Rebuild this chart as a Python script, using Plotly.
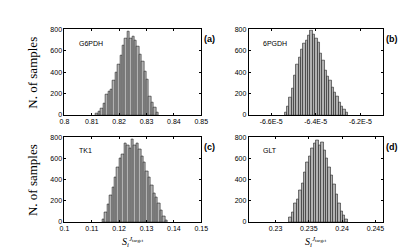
import numpy as np
import plotly.graph_objects as go

# ---- data ----
g6pdh_start = 0.8115
g6pdh_width = 0.00088
g6pdh_counts = [10, 30, 60, 110, 195, 220, 240, 320, 400, 470, 560, 650, 720,
                778, 720, 730, 700, 640, 570, 500, 410, 330, 170, 120, 70, 20]

pgdh_start = -6.540e-5
pgdh_width = 0.0105e-5
pgdh_counts = [20, 80, 160, 250, 370, 470, 540, 610, 666, 700, 745, 794, 755,
               720, 680, 576, 510, 420, 360, 322, 260, 210, 170, 120, 80, 50, 20]

tk1_start = 0.1139
tk1_width = 0.00088
tk1_counts = [22, 90, 170, 250, 330, 420, 520, 600, 640, 740, 720, 700, 780,
              720, 740, 690, 620, 560, 480, 420, 350, 270, 230, 180, 110, 50, 15]

glt_start = 0.23206
glt_width = 0.000366
glt_counts = [39, 93, 173, 218, 297, 367, 472, 561, 621, 698, 740, 770,
              725, 755, 680, 606, 516, 442, 352, 263, 173, 98, 63, 24]

panel_names = ["G6PDH", "6PGDH", "TK1", "GLT"]
panel_letters = ["(a)", "(b)", "(c)", "(d)"]
y_ticks = [0, 200, 400, 600, 800]

x_ranges = [[0.8, 0.85], [-6.7e-5, -6.1e-5], [0.1, 0.15], [0.226, 0.2461]]
x_tickvals = [[0.8, 0.81, 0.82, 0.83, 0.84, 0.85],
              [-6.6e-5, -6.4e-5, -6.2e-5],
              [0.1, 0.11, 0.12, 0.13, 0.14, 0.15],
              [0.23, 0.235, 0.24, 0.245]]
x_ticktext = [["0.8", "0.81", "0.82", "0.83", "0.84", "0.85"],
              ["-6.6E-5", "-6.4E-5", "-6.2E-5"],
              ["0.1", "0.11", "0.12", "0.13", "0.14", "0.15"],
              ["0.23", "0.235", "0.24", "0.245"]]

series = [(g6pdh_start, g6pdh_width, g6pdh_counts),
          (pgdh_start, pgdh_width, pgdh_counts),
          (tk1_start, tk1_width, tk1_counts),
          (glt_start, glt_width, glt_counts)]

# ---- layout geometry ----
W, H = 406, 248
xdoms = [[53 / W, 194 / W], [243 / W, 381 / W]]
ydoms = [[1 - 106 / H, 1 - 18 / H], [1 - 216 / H, 1 - 129 / H]]

fig = go.Figure()
annotations = []
tick_font = dict(family="Arial, Liberation Sans, sans-serif", size=7, color="black")

for i, (start, bw, counts) in enumerate(series):
    r, c = divmod(i, 2)
    n = i + 1
    xa = "x" if n == 1 else f"x{n}"
    ya = "y" if n == 1 else f"y{n}"
    centers = start + bw * (np.arange(len(counts)) + 0.5)
    fig.add_trace(go.Bar(x=centers, y=counts, width=bw, xaxis=xa, yaxis=ya,
                         marker=dict(color="#b3b3b3", line=dict(color="#222222", width=0.6)),
                         showlegend=False))
    axis_common = dict(showline=True, linecolor="black", linewidth=1, mirror="allticks",
                       ticks="inside", ticklen=2, tickwidth=0.8, tickcolor="black",
                       showgrid=False, zeroline=False, tickfont=tick_font)
    fig.layout[("xaxis" if n == 1 else f"xaxis{n}")] = dict(
        domain=xdoms[c], anchor=ya, range=x_ranges[i], tickmode="array",
        tickvals=x_tickvals[i], ticktext=x_ticktext[i], **axis_common)
    fig.layout[("yaxis" if n == 1 else f"yaxis{n}")] = dict(
        domain=ydoms[r], anchor=xa, range=[0, 800], tickmode="array",
        tickvals=y_ticks, **axis_common)
    # gene label
    annotations.append(dict(xref=f"{xa} domain", yref=f"{ya} domain", x=0.09, y=0.84,
                            xanchor="left", yanchor="middle", showarrow=False,
                            text=panel_names[i],
                            font=dict(family="Arial, Liberation Sans, sans-serif", size=7, color="black")))
    # panel letter
    annotations.append(dict(xref="paper", yref="paper",
                            x=(xdoms[c][1] * W + 1) / W, y=ydoms[r][1] - 10 / H,
                            xanchor="left", yanchor="middle", showarrow=False,
                            text="<b>" + panel_letters[i] + "</b>",
                            font=dict(family="Arial, Liberation Sans, sans-serif", size=9, color="black")))

# y titles
for r in range(2):
    annotations.append(dict(xref="paper", yref="paper", x=20 / W,
                            y=(ydoms[r][0] + ydoms[r][1]) / 2, textangle=-90,
                            xanchor="center", yanchor="middle", showarrow=False,
                            text="N. of samples",
                            font=dict(family="Times New Roman, Liberation Serif, serif", size=13, color="black")))
# x titles
for c in range(2):
    annotations.append(dict(xref="paper", yref="paper",
                            x=(xdoms[c][0] + xdoms[c][1]) / 2, y=1 - 237 / H,
                            xanchor="center", yanchor="middle", showarrow=False,
                            text="<i>S</i><sub><i>i</i></sub><sup><i>J</i><sub>target</sub></sup>",
                            font=dict(family="Times New Roman, Liberation Serif, serif", size=10, color="black")))

fig.update_layout(width=W, height=H, margin=dict(l=0, r=0, t=0, b=0),
                  paper_bgcolor="white", plot_bgcolor="white", bargap=0,
                  annotations=annotations)

fig.write_html("out.html")
